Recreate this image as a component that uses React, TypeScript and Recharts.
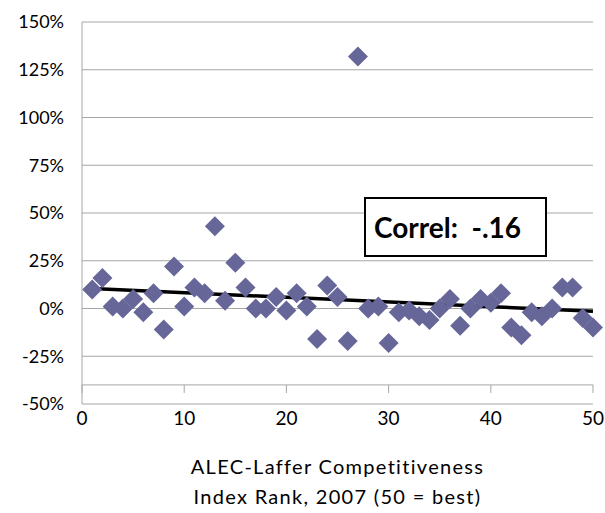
import React from 'react';
import {
  ScatterChart,
  Scatter,
  XAxis,
  YAxis,
  CartesianGrid,
  ReferenceLine,
} from 'recharts';

// rank (x) and change in % (y)
const ranks = [
  1, 2, 3, 4, 5, 6, 7, 8, 9, 10,
  11, 12, 13, 14, 15, 16, 17, 18, 19, 20,
  21, 22, 23, 24, 25, 26, 27, 28, 29, 30,
  31, 32, 33, 34, 35, 36, 37, 38, 39, 40,
  41, 42, 43, 44, 45, 46, 47, 48, 49, 50,
];
const changes = [
  10, 16, 1, 0, 5, -2, 8, -11, 22, 1,
  11, 8, 43, 4, 24, 11, 0, 0, 6, -1,
  8, 1, -16, 12, 6, -17, 132, 0, 1, -18,
  -2, -1, -4, -6, 0, 5, -9, 0, 5, 3,
  8, -10, -14, -2, -4, 0, 11, 11, -5, -10,
];

// linear trendline end points
const trendX = [1, 50];
const trendY = [10.5, -1.5];

const xTicks = [0, 10, 20, 30, 40, 50];
const yTicks = [-50, -25, 0, 25, 50, 75, 100, 125, 150];
const axisCross = -40;
const tickLen = 4.2;

const correlLabel = 'Correl:  -.16';
const titleLines = ['ALEC-Laffer Competitiveness', 'Index Rank, 2007 (50 = best)'];

const points = ranks.map((r, i) => ({ x: r, y: changes[i] }));

const FONT = 'Lato, "Open Sans", sans-serif';

const Diamond = (props: any) => {
  const { cx, cy } = props;
  if (cx == null || cy == null) return null;
  const r = 10;
  return (
    <polygon
      points={`${cx},${cy - r} ${cx + r},${cy} ${cx},${cy + r} ${cx - r},${cy}`}
      fill="#666699"
    />
  );
};

const App: React.FC = () => {
  return (
    <div
      style={{
        position: 'absolute',
        left: 0,
        top: 0,
        width: 605,
        height: 513,
        background: '#fff',
        fontFamily: FONT,
      }}
    >
      <ScatterChart
        width={605}
        height={513}
        margin={{ top: 22, right: 12, bottom: 79, left: 12 }}
      >
        <CartesianGrid horizontal vertical={false} stroke="#a6a6a6" />
        <XAxis
          type="number"
          dataKey="x"
          domain={[0, 50]}
          ticks={xTicks}
          axisLine={false}
          tickLine={false}
          tickSize={0}
          tickMargin={8}
          height={30}
          tick={{ fill: '#000', fontSize: 19, fontFamily: FONT }}
        />
        <YAxis
          type="number"
          dataKey="y"
          domain={[-50, 150]}
          ticks={yTicks}
          width={70}
          axisLine={{ stroke: '#a6a6a6' }}
          tickLine={false}
          tickSize={8}
          tickMargin={10}
          tickFormatter={(v: number) => `${v}%`}
          tick={{ fill: '#000', fontSize: 18, fontFamily: FONT }}
        />
        <ReferenceLine y={axisCross} stroke="#a6a6a6" />
        {xTicks.map((t) => (
          <ReferenceLine
            key={t}
            segment={[
              { x: t, y: axisCross },
              { x: t, y: axisCross - tickLen },
            ]}
            stroke="#a6a6a6"
          />
        ))}
        <Scatter data={points} shape={Diamond} isAnimationActive={false} />
        <ReferenceLine
          segment={[
            { x: trendX[0], y: trendY[0] },
            { x: trendX[1], y: trendY[1] },
          ]}
          stroke="#000"
          strokeWidth={3.5}
        />
      </ScatterChart>

      <div
        style={{
          position: 'absolute',
          left: 364,
          top: 197,
          width: 183,
          height: 60,
          boxSizing: 'border-box',
          border: '2px solid #000',
          background: '#fff',
          display: 'flex',
          alignItems: 'center',
          justifyContent: 'flex-start',
          paddingLeft: 8,
          fontWeight: 'bold',
          fontSize: 28,
          whiteSpace: 'pre',
        }}
      >
        {correlLabel}
      </div>

      {titleLines.map((line, i) => (
        <div
          key={line}
          style={{
            position: 'absolute',
            left: 82,
            width: 511,
            top: 454 + i * 30,
            textAlign: 'center',
            fontSize: 20,
            letterSpacing: 1.3,
          }}
        >
          {line}
        </div>
      ))}
    </div>
  );
};

export default App;
